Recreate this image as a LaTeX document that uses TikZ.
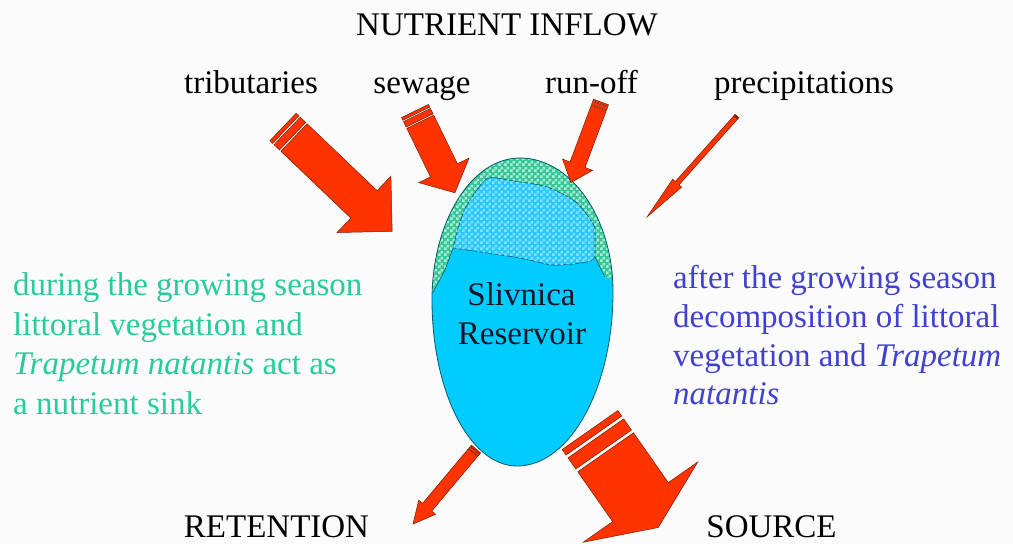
\documentclass[tikz,border=0pt]{standalone}
\usepackage{fontspec}
\setmainfont{Liberation Serif}
\usetikzlibrary{patterns}
\pgfdeclarepatternformonly{finecheck}{\pgfpointorigin}{\pgfqpoint{6pt}{6pt}}{\pgfqpoint{6pt}{6pt}}{%
  \pgfpathrectangle{\pgfpointorigin}{\pgfqpoint{3pt}{3pt}}%
  \pgfpathrectangle{\pgfqpoint{3pt}{3pt}}{\pgfqpoint{3pt}{3pt}}%
  \pgfusepath{fill}}
\definecolor{bgc}{RGB}{251,251,251}
\definecolor{arrowred}{RGB}{255,51,0}
\definecolor{arrowline}{RGB}{120,30,0}
\definecolor{eggblue}{RGB}{0,204,255}
\definecolor{eggline}{RGB}{0,90,110}
\definecolor{lakeblue}{RGB}{40,200,255}
\definecolor{lakecheck}{RGB}{130,225,255}
\definecolor{bandgreen}{RGB}{51,200,150}
\definecolor{bandcheck}{RGB}{175,235,215}
\definecolor{textgreen}{RGB}{38,204,153}
\definecolor{textblue}{RGB}{64,64,210}
\newcommand\stripedarrow[7]{%
  \begin{scope}[shift={(#1,-#2)},rotate=#3]
    \pgfmathsetmacro\stA{0.2*#5}
    \pgfmathsetmacro\gpA{0.1*#5}
    \pgfmathsetmacro\stB{0.4*#5}
    \filldraw[arrowshape] (0,-#5) rectangle ({\stA},#5);
    \filldraw[arrowshape] ({\stA+\gpA},-#5) rectangle ({\stA+\gpA+\stB},#5);
    \filldraw[arrowshape] ({\stA+2*\gpA+\stB},-#5) -- ({#4-#7},-#5) -- ({#4-#7},-#6)
      -- (#4,0) -- ({#4-#7},#6) -- ({#4-#7},#5) -- ({\stA+2*\gpA+\stB},#5) -- cycle;
  \end{scope}}
\begin{document}
\begin{tikzpicture}[x=1pt,y=1pt,
  font=\fontsize{33}{40}\selectfont,
  lbl/.style={inner sep=0pt,anchor=base},
  lline/.style={inner sep=0pt,anchor=base west,text=textgreen},
  rline/.style={inner sep=0pt,anchor=base west,text=textblue},
  arrowshape/.style={fill=arrowred,draw=arrowline,line width=0.5pt,line join=miter}]
\fill[bgc] (0,0) rectangle (1013,-544);
\useasboundingbox (0,0) rectangle (1013,-544);

% reservoir body
\fill[eggblue] (520,-158) .. controls (571,-158) and (613,-218) .. (613,-292)
  .. controls (613,-388) and (570,-466) .. (517,-466)
  .. controls (470,-466) and (432,-392) .. (432,-300)
  .. controls (432,-222) and (471,-158) .. (520,-158) -- cycle;
% littoral vegetation band
\begin{scope}
  \clip (520,-158) .. controls (571,-158) and (613,-218) .. (613,-292)
    .. controls (613,-388) and (570,-466) .. (517,-466)
    .. controls (470,-466) and (432,-392) .. (432,-300)
    .. controls (432,-222) and (471,-158) .. (520,-158) -- cycle;
  \fill[bandgreen] plot[smooth,tension=0.5] coordinates {(433,-292) (445,-270) (453,-248) (463,-213) (477,-190) (489,-178) (513,-181) (547,-187) (577,-203) (595,-227)}
    -- (595,-257) -- (605,-277) -- (625,-284) -- (625,-140) -- (415,-140) -- (415,-300) -- cycle;
  \fill[pattern=finecheck,pattern color=bandcheck] plot[smooth,tension=0.5] coordinates {(433,-292) (445,-270) (453,-248) (463,-213) (477,-190) (489,-178) (513,-181) (547,-187) (577,-203) (595,-227)}
    -- (595,-257) -- (605,-277) -- (625,-284) -- (625,-140) -- (415,-140) -- (415,-300) -- cycle;
\end{scope}
% upper lake (checkered)
\filldraw[fill=lakeblue,draw=eggline,line width=0.6pt] plot[smooth,tension=0.5] coordinates {(453,-248) (463,-213) (477,-190) (489,-178) (513,-181) (547,-187) (577,-203) (595,-227)}
  -- (595,-257) -- plot[smooth,tension=0.5] coordinates {(595,-257) (587,-262) (553,-265) (520,-258) (453,-248)} -- cycle;
\fill[pattern=finecheck,pattern color=lakecheck] plot[smooth,tension=0.5] coordinates {(453,-248) (463,-213) (477,-190) (489,-178) (513,-181) (547,-187) (577,-203) (595,-227)}
  -- (595,-257) -- plot[smooth,tension=0.5] coordinates {(595,-257) (587,-262) (553,-265) (520,-258) (453,-248)} -- cycle;
\draw[eggline,line width=0.6pt] (433,-292) -- (445,-270) -- (453,-248);
\draw[eggline,line width=0.6pt] (595,-257) -- (605,-277);
% outline
\draw[eggline,line width=0.8pt] (520,-158) .. controls (571,-158) and (613,-218) .. (613,-292)
  .. controls (613,-388) and (570,-466) .. (517,-466)
  .. controls (470,-466) and (432,-392) .. (432,-300)
  .. controls (432,-222) and (471,-158) .. (520,-158) -- cycle;

\node[lbl,text={rgb,255:red,20;green,20;blue,40}] (slivnica) at (521.5,-305) {Slivnica};
\node[lbl,text={rgb,255:red,20;green,20;blue,40}] (reservoir) at (522,-344) {Reservoir};

% arrows: tail x, tail y, angle, length, body half width, head half width, head length
\stripedarrow{283}{127}{-43.7}{151}{19}{39}{39}
\stripedarrow{415}{111}{-64}{91}{15}{28}{25}
\stripedarrow{601}{102}{-110.5}{86}{8}{16}{19}
\stripedarrow{737}{116}{-131.7}{135}{2.5}{6}{45}
\stripedarrow{476}{449}{-130}{98}{6}{11}{22}
\stripedarrow{590}{430}{-55}{119}{34}{70}{31}

% texts
\node[lbl] (inflow) at (507,-35) {NUTRIENT INFLOW};
\node[lbl] (trib) at (251,-93) {tributaries};
\node[lbl] (sew) at (422,-93) {sewage};
\node[lbl] (run) at (591.5,-93) {run-off};
\node[lbl] (prec) at (804,-93) {precipitations};

\node[lline] (l1) at (13,-295) {during the growing season};
\node[lline] (l2) at (13,-335) {littoral vegetation and};
\node[lline] (l3) at (13,-374) {\textit{Trapetum natantis} act as};
\node[lline] (l4) at (13,-414) {a nutrient sink};

\node[rline] (r1) at (673,-288) {after the growing season};
\node[rline] (r2) at (673,-327) {decomposition of littoral};
\node[rline] (r3) at (673,-366) {vegetation and \textit{Trapetum}};
\node[rline] (r4) at (673,-404) {\textit{natantis}};

\node[lbl] (ret) at (276.5,-537) {RETENTION};
\node[lbl] (src) at (771.5,-537) {SOURCE};
\end{tikzpicture}
\end{document}
